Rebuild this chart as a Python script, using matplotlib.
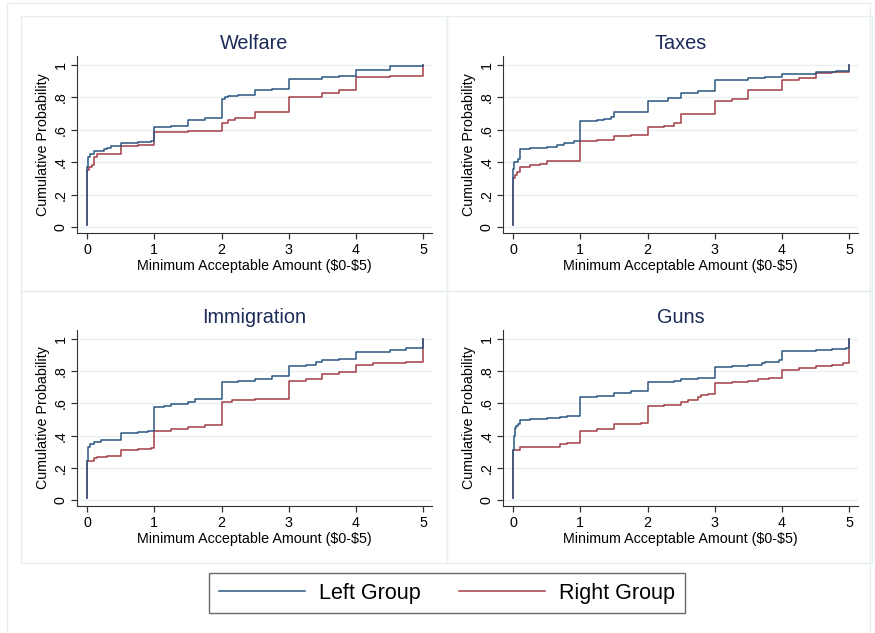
import matplotlib
matplotlib.use("Agg")
import matplotlib.pyplot as plt
from matplotlib.patches import Rectangle
from matplotlib.lines import Line2D

plt.rcParams['font.family'] = ['Liberation Sans', 'DejaVu Sans']

# cumulative distribution curves (step points)
welfare_left_x = [0, 0, 0.01, 0.05, 0.1, 0.25, 0.3, 0.35, 0.5, 0.75, 0.95, 1, 1.25, 1.5, 1.75, 2, 2.05, 2.1, 2.25, 2.5, 2.75, 3, 3.5, 3.75, 4, 4.5, 5]
welfare_left_y = [0.01, 0.37, 0.43, 0.45, 0.47, 0.48, 0.49, 0.50, 0.52, 0.525, 0.53, 0.62, 0.625, 0.66, 0.675, 0.79, 0.80, 0.808, 0.815, 0.845, 0.855, 0.915, 0.925, 0.93, 0.97, 0.995, 1.0]
welfare_right_x = [0, 0, 0.03, 0.08, 0.1, 0.15, 0.5, 0.75, 1, 1.5, 1.75, 2, 2.1, 2.2, 2.5, 3, 3.5, 3.75, 4, 4.5, 5]
welfare_right_y = [0.01, 0.355, 0.37, 0.38, 0.43, 0.45, 0.50, 0.505, 0.585, 0.59, 0.595, 0.64, 0.66, 0.675, 0.71, 0.80, 0.83, 0.845, 0.925, 0.935, 1.0]

taxes_left_x = [0, 0, 0.02, 0.08, 0.1, 0.25, 0.5, 0.65, 0.75, 0.9, 1, 1.25, 1.35, 1.45, 1.5, 2, 2.3, 2.5, 2.75, 3, 3.5, 3.75, 4, 4.5, 4.8, 5]
taxes_left_y = [0.01, 0.36, 0.40, 0.42, 0.48, 0.49, 0.495, 0.505, 0.52, 0.53, 0.655, 0.66, 0.67, 0.68, 0.71, 0.78, 0.795, 0.83, 0.84, 0.91, 0.92, 0.925, 0.945, 0.955, 0.965, 1.0]
taxes_right_x = [0, 0, 0.03, 0.06, 0.1, 0.25, 0.4, 0.5, 1, 1.25, 1.5, 1.75, 2, 2.25, 2.4, 2.5, 2.75, 3, 3.25, 3.5, 4, 4.25, 4.5, 4.75, 5]
taxes_right_y = [0.01, 0.30, 0.32, 0.34, 0.37, 0.38, 0.39, 0.41, 0.53, 0.54, 0.565, 0.57, 0.615, 0.625, 0.64, 0.695, 0.70, 0.78, 0.79, 0.845, 0.905, 0.92, 0.95, 0.96, 1.0]

immig_left_x = [0, 0, 0.02, 0.05, 0.1, 0.2, 0.5, 0.75, 0.9, 1, 1.15, 1.25, 1.5, 1.6, 2, 2.25, 2.5, 2.75, 3, 3.25, 3.4, 3.5, 3.75, 4, 4.5, 4.75, 5]
immig_left_y = [0.01, 0.24, 0.33, 0.345, 0.36, 0.375, 0.415, 0.42, 0.43, 0.575, 0.585, 0.595, 0.61, 0.625, 0.73, 0.74, 0.75, 0.77, 0.83, 0.84, 0.855, 0.87, 0.875, 0.92, 0.93, 0.945, 1.0]
immig_right_x = [0, 0, 0.1, 0.15, 0.3, 0.5, 0.75, 0.95, 1, 1.25, 1.5, 1.75, 2, 2.15, 2.5, 3, 3.25, 3.5, 3.75, 4, 4.25, 4.75, 5]
immig_right_y = [0.01, 0.24, 0.26, 0.27, 0.275, 0.31, 0.32, 0.325, 0.43, 0.44, 0.455, 0.465, 0.61, 0.62, 0.63, 0.74, 0.75, 0.785, 0.795, 0.84, 0.85, 0.86, 1.0]

guns_left_x = [0, 0, 0.01, 0.03, 0.05, 0.08, 0.1, 0.25, 0.5, 0.7, 0.8, 0.95, 1, 1.25, 1.5, 1.75, 2, 2.4, 2.5, 2.75, 3, 3.25, 3.5, 3.7, 3.75, 3.95, 4, 4.5, 4.75, 4.95, 5]
guns_left_y = [0.01, 0.31, 0.40, 0.45, 0.46, 0.47, 0.50, 0.505, 0.51, 0.515, 0.52, 0.525, 0.64, 0.645, 0.665, 0.675, 0.735, 0.74, 0.75, 0.76, 0.825, 0.83, 0.84, 0.85, 0.86, 0.87, 0.925, 0.93, 0.935, 0.945, 1.0]
guns_right_x = [0, 0, 0.1, 0.7, 0.8, 1, 1.25, 1.5, 1.75, 1.9, 2, 2.25, 2.5, 2.6, 2.75, 2.8, 2.9, 3, 3.25, 3.5, 3.65, 3.8, 4, 4.25, 4.5, 4.75, 4.9, 5]
guns_right_y = [0.01, 0.31, 0.33, 0.345, 0.355, 0.43, 0.44, 0.47, 0.475, 0.48, 0.585, 0.59, 0.61, 0.62, 0.64, 0.65, 0.66, 0.725, 0.73, 0.74, 0.75, 0.76, 0.81, 0.82, 0.83, 0.84, 0.85, 1.0]

titles = ["Welfare", "Taxes", "Immigration", "Guns"]
xticks = [0, 1, 2, 3, 4, 5]
yticks = [0, 0.2, 0.4, 0.6, 0.8, 1]
ytick_labels = ["0", ".2", ".4", ".6", ".8", "1"]
legend_labels = ["Left Group", "Right Group"]

left_series = [(welfare_left_x, welfare_left_y), (taxes_left_x, taxes_left_y),
               (immig_left_x, immig_left_y), (guns_left_x, guns_left_y)]
right_series = [(welfare_right_x, welfare_right_y), (taxes_right_x, taxes_right_y),
                (immig_right_x, immig_right_y), (guns_right_x, guns_right_y)]

blue = "#2a5782"
red = "#a23d45"
grid_col = "#e8f0f2"
frame_col = "#e6eef0"

W, H = 875, 633
fig = plt.figure(figsize=(8.75, 6.33), dpi=100)
fig.patch.set_facecolor("white")

# faint frames around the whole graph and each panel (pixel coords)
frames = [(7, 3, 870, 640), (21, 16, 447, 291), (447, 16, 872, 291),
          (21, 291, 447, 563), (447, 291, 872, 563)]
for x0, y0, x1, y1 in frames:
    fig.patches.append(Rectangle((x0 / W, 1 - y1 / H), (x1 - x0) / W, (y1 - y0) / H,
                                 transform=fig.transFigure, fill=False,
                                 edgecolor=frame_col, linewidth=1.0))

# axes boxes in pixels: left, top, right, bottom
boxes = [(77, 56, 432, 233), (503, 56, 858, 233),
         (77, 330, 432, 506), (503, 330, 858, 506)]

for i in range(4):
    l, t, r, b = boxes[i]
    ax = fig.add_axes([l / W, 1 - b / H, (r - l) / W, (b - t) / H])
    ax.set_xlim(-0.15, 5.13)
    ax.set_ylim(-0.037, 1.056)
    for yv in yticks:
        ax.axhline(yv, color=grid_col, linewidth=1.0, zorder=0)
    lx, ly = left_series[i]
    rx, ry = right_series[i]
    ax.step(rx, ry, where="post", color=red, linewidth=1.1)
    ax.step(lx, ly, where="post", color=blue, linewidth=1.1)

    ax.spines["top"].set_visible(False)
    ax.spines["right"].set_visible(False)
    ax.spines["left"].set_color("#333333")
    ax.spines["bottom"].set_color("#333333")
    ax.set_xticks(xticks)
    ax.set_yticks(yticks)
    ax.set_yticklabels(ytick_labels, rotation=90, va="center")
    ax.tick_params(axis="both", labelsize=10.3, length=4, width=0.9, color="#333333", pad=2.5)
    ax.tick_params(axis="x", pad=3.5)
    ax.set_xlabel(r"Minimum Acceptable Amount (\$0-\$5)", fontsize=10.3, labelpad=1)
    ax.set_ylabel("Cumulative Probability", fontsize=10.3, labelpad=3)
    ax.set_title(titles[i], fontsize=14.3, color="#1c2b57", pad=5)

handles = [Line2D([], [], color=blue, linewidth=1.1), Line2D([], [], color=red, linewidth=1.1)]
leg = fig.legend(handles, legend_labels, loc="center", bbox_to_anchor=(447 / W, 1 - 593 / H),
                 ncol=2, fontsize=15.5, frameon=True, fancybox=False, handlelength=4.0,
                 handletextpad=0.65, columnspacing=1.8, borderpad=0.45)
leg.get_frame().set_edgecolor("#444444")
leg.get_frame().set_linewidth(1.0)

fig.savefig("out.png", dpi=100, facecolor="white")
